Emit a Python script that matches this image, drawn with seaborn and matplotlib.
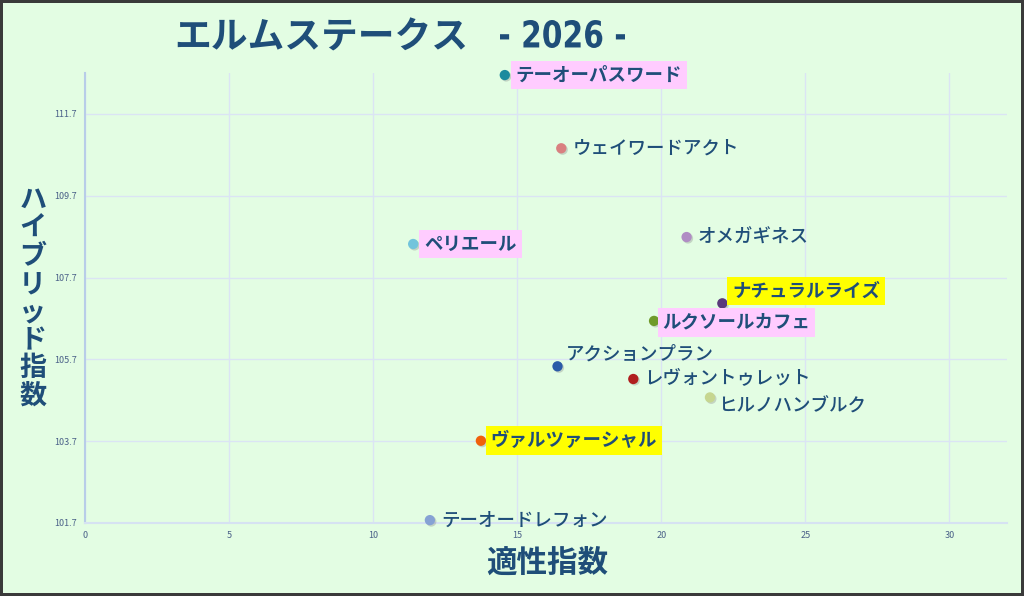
import matplotlib
matplotlib.use("Agg")
import matplotlib.pyplot as plt
import matplotlib.patheffects as pe
from matplotlib.textpath import TextPath
from matplotlib.patches import PathPatch
from matplotlib.font_manager import FontProperties
from matplotlib.transforms import Affine2D
import pandas as pd
import seaborn as sns

# data
horses = ['テーオーパスワード', 'ウェイワードアクト', 'ペリエール', 'オメガギネス',
          'ナチュラルライズ', 'ルクソールカフェ', 'アクションプラン', 'レヴォントゥレット',
          'ヒルノハンブルク', 'ヴァルツァーシャル', 'テーオードレフォン']
tekisei = [14.57, 16.53, 11.39, 20.88, 22.12, 19.75, 16.40, 19.03, 21.69, 13.74, 11.97]
hybrid = [112.65, 110.86, 108.52, 108.69, 107.07, 106.64, 105.53, 105.22, 104.77, 103.71, 101.77]
dot_colors = ['#1b8a9e', '#d98080', '#72c4dc', '#b08cc4', '#5a3a7c', '#6f9a2a',
              '#2a5aa8', '#b01e1e', '#c6d690', '#f0600c', '#86a2d4']
highlight = ['#ffccff', None, '#ffccff', None, '#ffff00', '#ffccff', None, None, None, '#ffff00', None]
# label offsets (points) from each dot
offsets = [(8, 0), (8, 0), (8, 0), (8, 0), (7, 9), (6, -1), (6, 9), (8, 0), (6, -6), (7, 0), (8, 0)]

xticks = [0, 5, 10, 15, 20, 25, 30]
yticks = [101.7, 103.7, 105.7, 107.7, 109.7, 111.7]

df = pd.DataFrame({'name': horses, 'x': tekisei, 'y': hybrid})

bg = '#e3fde3'
navy = '#1f4e79'
jp = ['Noto Sans CJK JP', 'DejaVu Sans']

sns.set_style('white')
plt.rcParams['font.family'] = jp

W, H = 1024, 596
fig = plt.figure(figsize=(W / 100, H / 100), dpi=100, facecolor=bg,
                 edgecolor='#3a3a3a', linewidth=4)
ax = fig.add_axes([0.083, 0.1225, 0.9004, 0.755])
ax.set_facecolor(bg)

shadow = [pe.SimplePatchShadow(offset=(1, -1), shadow_rgbFace='#888888', alpha=0.35), pe.Normal()]
sns.scatterplot(data=df, x='x', y='y', hue='name', palette=dict(zip(horses, dot_colors)),
                s=55, edgecolor='none', legend=False, ax=ax, zorder=3, path_effects=shadow,
                clip_on=False)

for name, x, y, hl, off in zip(horses, tekisei, hybrid, highlight, offsets):
    box = dict(facecolor=hl, edgecolor='none', pad=3.5) if hl else None
    ax.annotate(name, (x, y), xytext=off, textcoords='offset points',
                ha='left', va='center', fontsize=13.3, color=navy,
                fontweight='bold' if hl else 'medium', bbox=box, zorder=4)

ax.set_xlim(0, 32)
ax.set_ylim(101.7, 112.7)
ax.set_xticks(xticks)
ax.set_yticks(yticks)
ax.set_yticklabels([f'{v:.1f}' for v in yticks])
ax.tick_params(length=0, labelsize=6.5, labelcolor='#4a6088', pad=6)
ax.grid(True, color='#dbe4f4', linewidth=1)
ax.set_axisbelow(True)
for side in ['top', 'right']:
    ax.spines[side].set_visible(False)
ax.spines['left'].set_color('#b8cde8')
ax.spines['left'].set_linewidth(1.5)
ax.spines['bottom'].set_color('#d6e2f2')
ax.spines['bottom'].set_linewidth(1.5)
ax.set_xlabel('')
ax.set_ylabel('')

fig.text(0.534, 0.055, '適性指数', ha='center', va='center', fontsize=22,
         fontweight='bold', color=navy)
fig.text(0.032, 0.50, '\n'.join('ハイブリッド指数'), ha='center', va='center',
         fontsize=19.5, fontweight='bold', color=navy, linespacing=1.0)
fig.text(0.170, 0.937, 'エルムステークス', ha='left', va='center', fontsize=26.5,
         fontweight='bold', color=navy)

# narrow "- 2026 -": squeeze a bold glyph path into the box it takes in the reference
tp = TextPath((0, 0), '- 2026 -', size=1,
              prop=FontProperties(family='DejaVu Sans', weight='bold', stretch='condensed'))
ext = tp.get_extents()
box_x, box_w, base_y, cap_h = 500, 125, H - 48, 28
tr = (Affine2D().translate(-ext.x0, -ext.y0)
      .scale(box_w / ext.width, cap_h / ext.height)
      .translate(box_x, base_y)
      .scale(1 / W, 1 / H))
fig.add_artist(PathPatch(tr.transform_path(tp), facecolor=navy, edgecolor='none',
                         transform=fig.transFigure))

fig.savefig('out.png', dpi=100, facecolor=fig.get_facecolor(), edgecolor=fig.get_edgecolor())
